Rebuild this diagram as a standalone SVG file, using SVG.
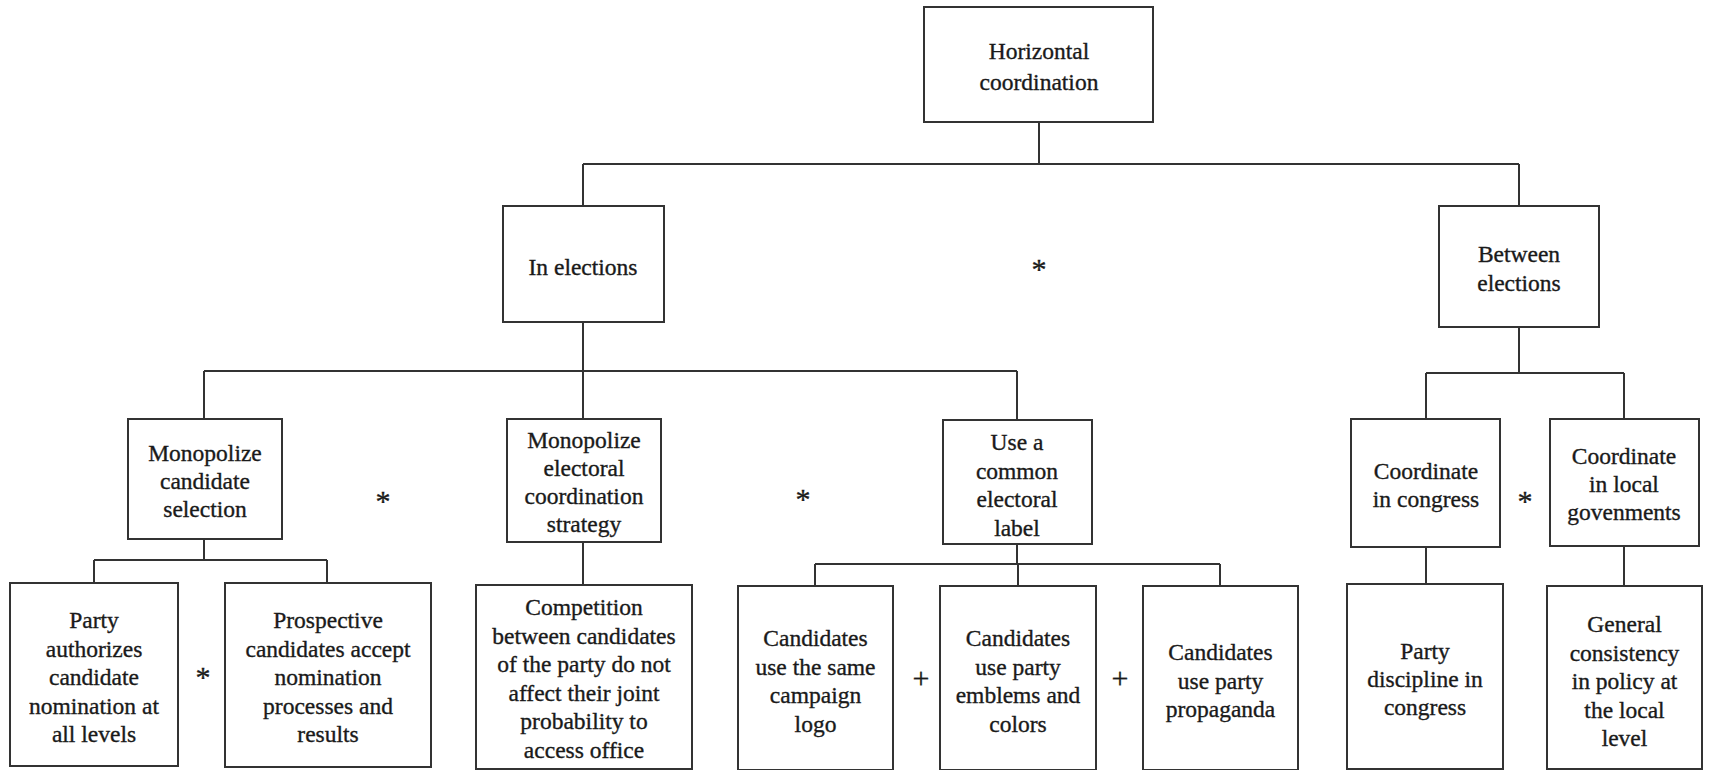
<svg xmlns="http://www.w3.org/2000/svg" width="1710" height="770" viewBox="0 0 1710 770">
<style>
.box{fill:#fff;stroke:#333;stroke-width:2}
.ln{fill:none;stroke:#333;stroke-width:2}
text{font-family:'Liberation Serif','DejaVu Serif',serif;font-size:23.5px;fill:#1a1a1a;stroke:#1a1a1a;stroke-width:0.35;text-anchor:middle}
.op{font-size:30px}
</style>
<rect width="1710" height="770" fill="#fff"/>
<g id="connectors" class="ln">
<path d="M1039 122V164M583 164H1519M583 164V206M1519 164V206"/>
<path d="M583 322V371M204 371H1017M204 371V419M583 371V419M1017 371V420"/>
<path d="M1519 327V373M1426 373H1624M1426 373V419M1624 373V419"/>
<path d="M204 539V560M94 560H327M94 560V583M327 560V583"/>
<path d="M583 542V585"/>
<path d="M1017 544V564M815 564H1220M815 564V586M1018 564V586M1220 564V586"/>
<path d="M1426 547V584M1624 546V586"/>
</g>
<g id="n-horizontal"><rect class="box" x="924" y="7" width="229" height="115"/><text x="1039" y="59">Horizontal</text><text x="1039" y="90">coordination</text></g>
<g id="n-in-elections"><rect class="box" x="503" y="206" width="161" height="116"/><text x="583" y="275">In elections</text></g>
<g id="n-between"><rect class="box" x="1439" y="206" width="160" height="121"/><text x="1519" y="262">Between</text><text x="1519" y="291">elections</text></g>
<g id="n-mono-cand"><rect class="box" x="128" y="419" width="154" height="120"/><text x="205" y="461">Monopolize</text><text x="205" y="489">candidate</text><text x="205" y="517">selection</text></g>
<g id="n-mono-elect"><rect class="box" x="507" y="419" width="154" height="123"/><text x="584" y="448">Monopolize</text><text x="584" y="476">electoral</text><text x="584" y="504">coordination</text><text x="584" y="532">strategy</text></g>
<g id="n-label"><rect class="box" x="943" y="420" width="149" height="124"/><text x="1017" y="450">Use a</text><text x="1017" y="478.5">common</text><text x="1017" y="507">electoral</text><text x="1017" y="535.5">label</text></g>
<g id="n-congress"><rect class="box" x="1351" y="419" width="149" height="128"/><text x="1426" y="479">Coordinate</text><text x="1426" y="507">in congress</text></g>
<g id="n-local"><rect class="box" x="1550" y="419" width="149" height="127"/><text x="1624" y="464">Coordinate</text><text x="1624" y="492">in local</text><text x="1624" y="520">govenments</text></g>
<g id="n-party-auth"><rect class="box" x="10" y="583" width="168" height="183"/><text x="94" y="628">Party</text><text x="94" y="656.5">authorizes</text><text x="94" y="685">candidate</text><text x="94" y="713.5">nomination at</text><text x="94" y="742">all levels</text></g>
<g id="n-prospective"><rect class="box" x="225" y="583" width="206" height="184"/><text x="328" y="628">Prospective</text><text x="328" y="656.5">candidates accept</text><text x="328" y="685">nomination</text><text x="328" y="713.5">processes and</text><text x="328" y="742">results</text></g>
<g id="n-competition"><rect class="box" x="476" y="585" width="216" height="184"/><text x="584" y="615">Competition</text><text x="584" y="643.5">between candidates</text><text x="584" y="672">of the party do not</text><text x="584" y="700.5">affect their joint</text><text x="584" y="729">probability to</text><text x="584" y="757.5">access office</text></g>
<g id="n-logo"><rect class="box" x="738" y="586" width="155" height="184"/><text x="815.5" y="646">Candidates</text><text x="815.5" y="674.5">use the same</text><text x="815.5" y="703">campaign</text><text x="815.5" y="731.5">logo</text></g>
<g id="n-emblems"><rect class="box" x="940" y="586" width="156" height="184"/><text x="1018" y="646">Candidates</text><text x="1018" y="674.5">use party</text><text x="1018" y="703">emblems and</text><text x="1018" y="731.5">colors</text></g>
<g id="n-propaganda"><rect class="box" x="1143" y="586" width="155" height="184"/><text x="1220.5" y="660">Candidates</text><text x="1220.5" y="688.5">use party</text><text x="1220.5" y="717">propaganda</text></g>
<g id="n-discipline"><rect class="box" x="1347" y="584" width="156" height="185"/><text x="1425" y="659">Party</text><text x="1425" y="687">discipline in</text><text x="1425" y="715">congress</text></g>
<g id="n-consistency"><rect class="box" x="1547" y="586" width="155" height="183"/><text x="1624.5" y="632">General</text><text x="1624.5" y="660.5">consistency</text><text x="1624.5" y="689">in policy at</text><text x="1624.5" y="717.5">the local</text><text x="1624.5" y="746">level</text></g>
<g id="operators">
<text class="op" x="1039" y="279">*</text>
<text class="op" x="383" y="511">*</text>
<text class="op" x="803" y="509">*</text>
<text class="op" x="1525" y="511">*</text>
<text class="op" x="203" y="687">*</text>
<text class="op" x="921" y="688">+</text>
<text class="op" x="1120" y="688">+</text>
</g>
</svg>
